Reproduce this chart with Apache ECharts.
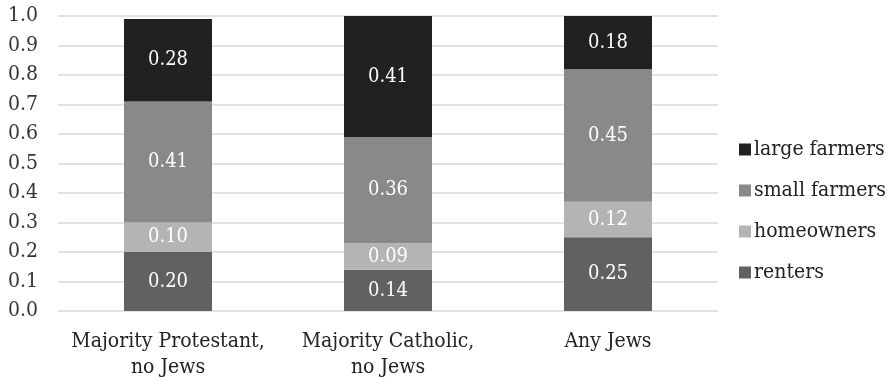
<!DOCTYPE html>
<html>
<head>
<meta charset="utf-8">
<script src="https://cdn.jsdelivr.net/npm/echarts@6/dist/echarts.min.js"></script>
<style>
  html, body { margin: 0; padding: 0; background: #fff; }
  #chart { width: 893px; height: 381px; }
</style>
</head>
<body>
<div id="chart"></div>
<script>
// Share of households by occupation group, per type of community
const categories = ['Majority Protestant,\nno Jews', 'Majority Catholic,\nno Jews', 'Any Jews'];
const renters = [0.20, 0.14, 0.25];
const homeowners = [0.10, 0.09, 0.12];
const smallFarmers = [0.41, 0.36, 0.45];
const largeFarmers = [0.28, 0.41, 0.18];
const yTicks = [0, 0.1, 0.2, 0.3, 0.4, 0.5, 0.6, 0.7, 0.8, 0.9, 1.0];

const FONT = '"DejaVu Serif Condensed", "DejaVu Serif", serif';

function stackSeries(name, data, color) {
  return {
    name: name,
    type: 'bar',
    stack: 'total',
    barWidth: '40%',
    data: data,
    itemStyle: { color: color },
    label: {
      show: true,
      position: 'inside',
      color: '#fff',
      fontFamily: FONT,
      fontSize: 20,
      formatter: p => p.value.toFixed(2)
    },
    emphasis: { disabled: true }
  };
}

const chart = echarts.init(document.getElementById('chart'));
chart.setOption({
  animation: false,
  grid: { left: 58, right: 175, top: 16, bottom: 70 },
  xAxis: {
    type: 'category',
    data: categories,
    axisLine: { show: false },
    axisTick: { show: false },
    axisLabel: {
      interval: 0,
      color: '#222',
      fontFamily: FONT,
      fontSize: 21,
      lineHeight: 26,
      margin: 18
    }
  },
  yAxis: {
    type: 'value',
    min: yTicks[0],
    max: yTicks[yTicks.length - 1],
    interval: 0.1,
    axisLine: { show: false },
    axisTick: { show: false },
    splitLine: { lineStyle: { color: '#d9d9d9', width: 1.5 } },
    axisLabel: {
      color: '#333',
      fontFamily: FONT,
      fontSize: 21,
      margin: 20,
      formatter: v => v.toFixed(1)
    }
  },
  legend: {
    orient: 'vertical',
    left: 734,
    top: 134,
    itemWidth: 12,
    itemHeight: 12,
    itemGap: 20,
    icon: 'rect',
    data: ['large farmers', 'small farmers', 'homeowners', 'renters'],
    textStyle: { color: '#222', fontFamily: FONT, fontSize: 21, padding: [0, 0, 0, -2] }
  },
  series: [
    stackSeries('renters', renters, '#616161'),
    stackSeries('homeowners', homeowners, '#b4b4b4'),
    stackSeries('small farmers', smallFarmers, '#898989'),
    stackSeries('large farmers', largeFarmers, '#212121')
  ]
});
</script>
</body>
</html>
